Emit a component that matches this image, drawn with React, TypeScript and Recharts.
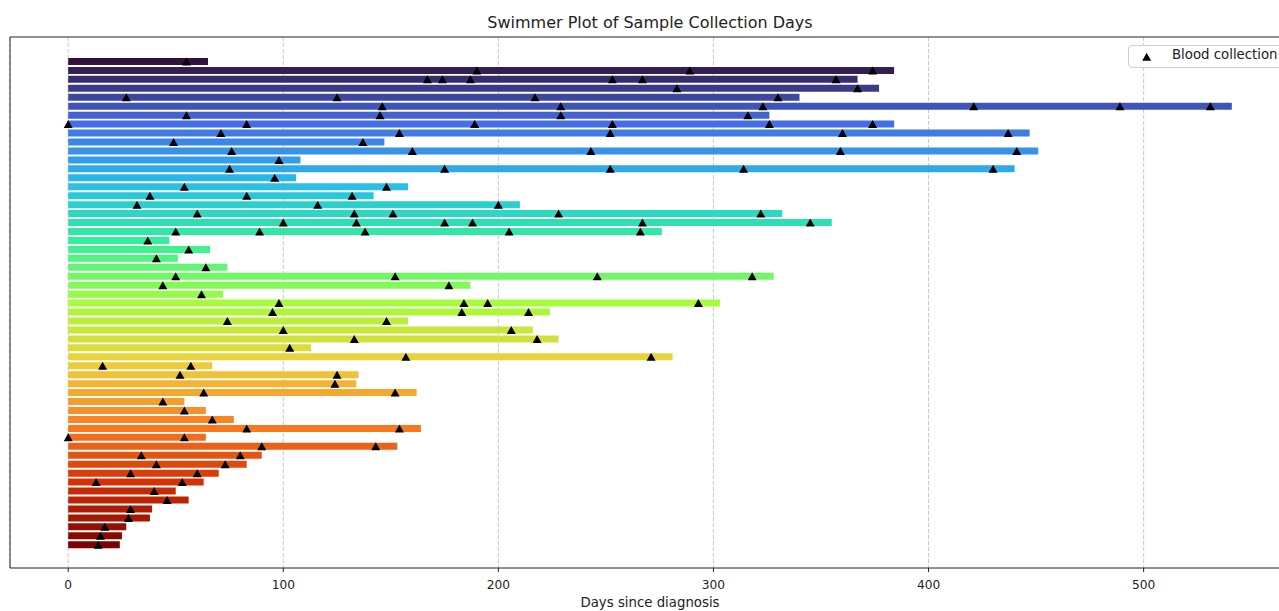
import React from 'react';
import { ComposedChart, Bar, Scatter, XAxis, YAxis, CartesianGrid, Cell, ReferenceArea, Legend } from 'recharts';

// follow-up length per patient (days), top row first
const followUpDays = [
  65, 384, 367, 377, 340, 541, 326, 384, 447, 147, 451, 108, 440, 106, 158, 142, 210, 332, 355, 276,
  47, 66, 51, 74, 328, 187, 72, 303, 224, 158, 216, 228, 113, 281, 67, 135, 134, 162, 54, 64,
  77, 164, 64, 153, 90, 83, 70, 63, 50, 56, 39, 38, 27, 25, 24,
];

// blood collection days per patient
const bloodDays = [
  [55], [190, 289, 374], [167, 174, 187, 253, 267, 357], [283, 367], [27, 125, 217, 330],
  [146, 229, 323, 421, 489, 531], [55, 145, 229, 316], [0, 83, 189, 253, 326, 374],
  [71, 154, 252, 360, 437], [49, 137], [76, 160, 243, 359, 441], [98], [75, 175, 252, 314, 430],
  [96], [54, 148], [38, 83, 132], [32, 116, 200], [60, 133, 151, 228, 322],
  [100, 134, 175, 188, 267, 345], [50, 89, 138, 205, 266], [37], [56], [41], [64],
  [50, 152, 246, 318], [44, 177], [62], [98, 184, 195, 293], [95, 183, 214], [74, 148],
  [100, 206], [133, 218], [103], [157, 271], [16, 57], [52, 125], [124], [63, 152], [44], [54],
  [67], [83, 154], [0, 54], [90, 143], [34, 80], [41, 73], [29, 60], [13, 53], [40], [46],
  [29], [28], [17], [15], [14],
];

const xTicks = [0, 100, 200, 300, 400, 500];

// turbo colormap anchors
const turboStops = [
  [48, 18, 59], [70, 107, 227], [40, 187, 236], [50, 241, 152], [164, 252, 60],
  [238, 207, 58], [251, 126, 33], [208, 47, 5], [122, 4, 3],
];

const turbo = (t: number) => {
  const p = t * (turboStops.length - 1);
  const i = Math.min(Math.floor(p), turboStops.length - 2);
  const f = p - i;
  const c = turboStops[i].map((v, k) => Math.round(v + (turboStops[i + 1][k] - v) * f));
  return `rgb(${c[0]},${c[1]},${c[2]})`;
};

const rows = followUpDays.map((end, row) => ({ row, end }));
const points = bloodDays.flatMap((days, row) => days.map((day) => ({ row, day })));

const Triangle = (props: any) => {
  const { cx, cy } = props;
  return <path d={`M${cx},${cy - 4} L${cx + 4.5},${cy + 4} L${cx - 4.5},${cy + 4} Z`} fill="#000" />;
};

const LegendBox = () => (
  <div
    style={{
      position: 'relative',
      border: '1px solid #d0d0d0',
      borderRadius: 4,
      background: '#fff',
      width: 170,
      height: 21,
      fontFamily: 'DejaVu Sans',
      fontSize: 13.3,
      color: '#222',
    }}
  >
    <svg width={40} height={21} style={{ position: 'absolute', left: 0, top: 0 }}>
      <path d="M17.7,6.7 L22.2,14.7 L13.2,14.7 Z" fill="#000" />
    </svg>
    <span style={{ position: 'absolute', left: 43, top: 1.5, lineHeight: '13.3px', whiteSpace: 'nowrap' }}>
      Blood collection
    </span>
  </div>
);

export default function App() {
  return (
    <div
      style={{
        position: 'absolute',
        left: 0,
        top: 0,
        width: 1279,
        height: 611,
        overflow: 'hidden',
        background: '#fff',
        fontFamily: 'DejaVu Sans',
      }}
    >
      <div
        style={{
          position: 'absolute',
          top: 15,
          left: 0,
          width: 1300,
          textAlign: 'center',
          fontSize: 16,
          lineHeight: '16px',
          color: '#222',
        }}
      >
        Swimmer Plot of Sample Collection Days
      </div>
      <ComposedChart
        width={1300}
        height={611}
        data={rows}
        layout="vertical"
        margin={{ top: 37, right: 10, bottom: 0, left: 10 }}
      >
        <CartesianGrid horizontal={false} stroke="#c8c8c8" strokeDasharray="4 2" />
        <XAxis
          type="number"
          domain={[-27.05, 568.05]}
          ticks={xTicks}
          allowDataOverflow
          height={43}
          axisLine={false}
          stroke="#222"
          tickSize={4}
          tickMargin={8}
          tick={{ fontSize: 12.2, fill: '#222' }}
          label={{ value: 'Days since diagnosis', position: 'insideBottom', offset: 4, fontSize: 13.3, fill: '#222' }}
        />
        <YAxis type="number" dataKey="row" domain={[-2.73, 56.6]} allowDataOverflow hide />
        <Bar dataKey="end" barSize={7} isAnimationActive={false}>
          {rows.map((r) => (
            <Cell key={r.row} fill={turbo(r.row / (rows.length - 1))} />
          ))}
        </Bar>
        <Scatter data={points} dataKey="day" shape={Triangle} isAnimationActive={false} />
        <ReferenceArea
          x1={-27.05}
          x2={568.05}
          y1={-2.73}
          y2={56.6}
          fill="none"
          stroke="#222"
          strokeWidth={1}
          ifOverflow="visible"
        />
        <Legend
          layout="vertical"
          align="center"
          verticalAlign="middle"
          content={() => <LegendBox />}
          wrapperStyle={{ top: 45, left: 1128, width: 172, height: 23 }}
        />
      </ComposedChart>
    </div>
  );
}
